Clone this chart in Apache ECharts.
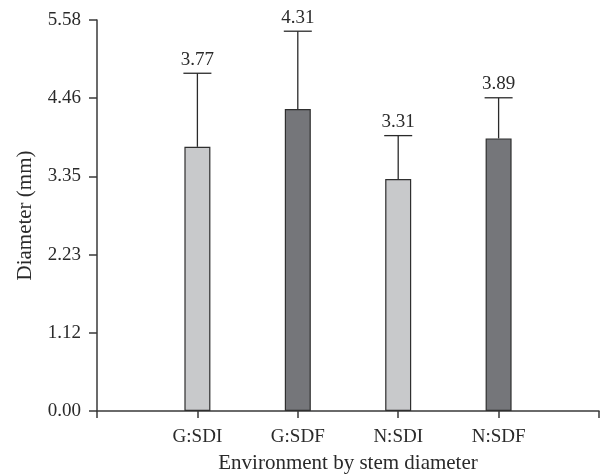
<!DOCTYPE html>
<html><head><meta charset="utf-8">
<script src="https://cdn.jsdelivr.net/npm/echarts@6/dist/echarts.min.js"></script>
<style>html,body{margin:0;padding:0;background:#fff}#c{width:600px;height:474px}</style>
</head><body><div id="c"></div>
<script>
var categories = ['', 'G:SDI', 'G:SDF', 'N:SDI', 'N:SDF', ''];
var means = [null, 3.77, 4.31, 3.31, 3.89, null];
var errTops = [null, 4.82, 5.42, 3.93, 4.47, null];
var barColors = [null, '#c8c9cb', '#75767a', '#c8c9cb', '#75767a', null];

var FONT = '"Liberation Serif", "Times New Roman", serif';
var chart = echarts.init(document.getElementById('c'));
var barData = means.map(function (v, i) {
  return v == null ? '-' : { value: v, itemStyle: { color: barColors[i] } };
});
var errData = [];
for (var i = 0; i < categories.length; i++) {
  if (means[i] != null) errData.push([i, means[i], errTops[i]]);
}
chart.setOption({
  animation: false,
  grid: { left: 97, right: 1, top: 20, bottom: 63, containLabel: false, outerBoundsMode: 'none' },
  xAxis: {
    type: 'category', data: categories, boundaryGap: false,
    axisLine: { lineStyle: { color: '#3a3a3a', width: 1.5 } },
    axisTick: { show: true, length: 7, lineStyle: { color: '#3a3a3a', width: 1.5 } },
    axisLabel: { color: '#2a2a2a', fontFamily: FONT, fontSize: 19, margin: 17, interval: 0 },
    name: 'Environment by stem diameter', nameLocation: 'middle', nameGap: 42,
    nameTextStyle: { color: '#2a2a2a', fontFamily: FONT, fontSize: 21 }
  },
  yAxis: {
    type: 'value', min: 0, max: 5.58, interval: 1.116,
    splitLine: { show: false },
    axisLine: { show: true, lineStyle: { color: '#3a3a3a', width: 1.5 } },
    axisTick: { show: true, length: 8, lineStyle: { color: '#3a3a3a', width: 1.5 } },
    axisLabel: { color: '#2a2a2a', fontFamily: FONT, fontSize: 19, margin: 16,
      formatter: function (v) { return v.toFixed(2); } },
    name: 'Diameter (mm)', nameLocation: 'middle', nameGap: 61,
    nameTextStyle: { color: '#2a2a2a', fontFamily: FONT, fontSize: 21 }
  },
  series: [
    { type: 'bar', data: barData, barWidth: 26,
      itemStyle: { borderColor: '#2f2f2f', borderWidth: 1.2 }, z: 2 },
    { type: 'custom', data: errData, z: 3,
      renderItem: function (params, api) {
        var x = api.value(0);
        var base = api.coord([x, api.value(1)]);
        var top = api.coord([x, api.value(2)]);
        var half = 14;
        return { type: 'group', children: [
          { type: 'line', shape: { x1: base[0], y1: base[1], x2: top[0], y2: top[1] },
            style: { stroke: '#2a2a2a', lineWidth: 1.3 } },
          { type: 'line', shape: { x1: top[0] - half, y1: top[1], x2: top[0] + half, y2: top[1] },
            style: { stroke: '#2a2a2a', lineWidth: 1.3 } },
          { type: 'text', x: top[0], y: top[1] - 4,
            style: { text: api.value(1).toFixed(2), fill: '#2a2a2a', font: '19px ' + FONT,
              align: 'center', verticalAlign: 'bottom' } }
        ] };
      }
    }
  ]
});
</script></body></html>
